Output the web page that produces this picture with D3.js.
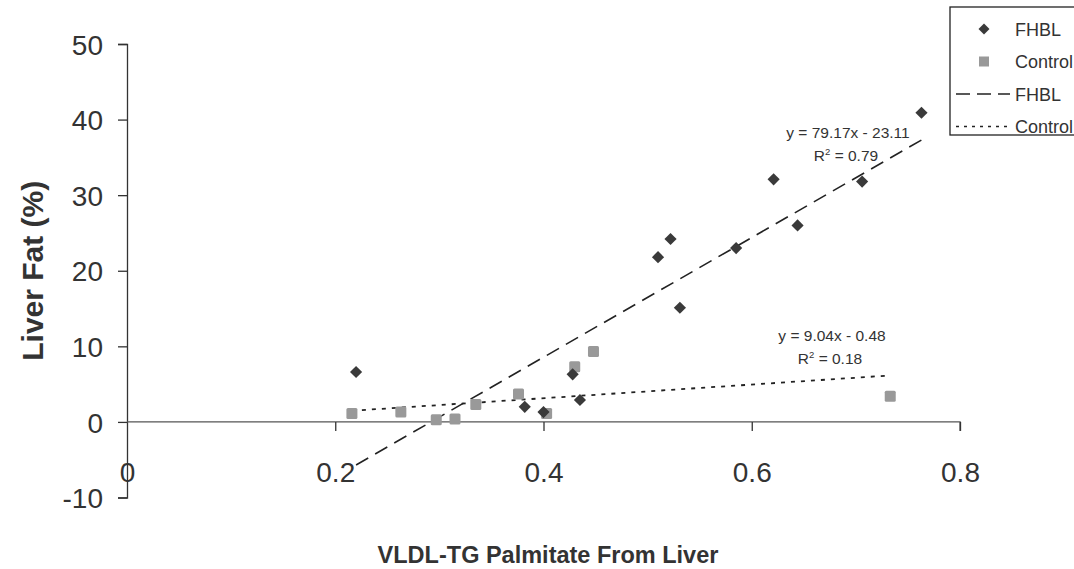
<!DOCTYPE html>
<html lang="en">
<head>
<meta charset="utf-8">
<title>Liver Fat vs VLDL-TG Palmitate</title>
<style>
  body { margin: 0; background: #fff; }
  svg text { font-family: "Liberation Sans", Arial, sans-serif; fill: #333; }
</style>
</head>
<body>
<div id="chart"></div>
<script src="https://d3js.org/d3.v7.min.js"></script>
<script>
// data
var fhblX = [0.22, 0.382, 0.40, 0.428, 0.435, 0.51, 0.522, 0.531, 0.585, 0.621, 0.644, 0.706, 0.763];
var fhblY = [6.6, 2.0, 1.3, 6.3, 2.9, 21.8, 24.2, 15.1, 23.0, 32.1, 26.0, 31.8, 40.9];
var ctrlX = [0.216, 0.263, 0.297, 0.315, 0.335, 0.376, 0.43, 0.448, 0.403, 0.733];
var ctrlY = [1.1, 1.3, 0.3, 0.4, 2.3, 3.7, 7.3, 9.3, 1.1, 3.4];
var xTicks = [0, 0.2, 0.4, 0.6, 0.8];
var yTicks = [-10, 0, 10, 20, 30, 40, 50];
var fhblFit = { slope: 79.17, icpt: -23.11, r2: "0.79", eq: "y = 79.17x - 23.11" };
var ctrlFit = { slope: 9.04, icpt: -0.48, r2: "0.18", eq: "y = 9.04x - 0.48" };

var width = 1074, height = 569;

var svg = d3.select("#chart").append("svg")
    .attr("width", width)
    .attr("height", height);

var x = d3.scaleLinear().domain([0, 0.8]).range([127, 960]);
var y = d3.scaleLinear().domain([-10, 50]).range([497.5, 44]);

// y axis
var yAxis = svg.append("g")
    .attr("transform", "translate(" + x(0) + ",0)")
    .call(d3.axisLeft(y).tickValues(yTicks).tickSize(9).tickPadding(15).tickFormat(function(d) { return String(d); }));
yAxis.select(".domain").attr("stroke", "#333").attr("stroke-width", 1.3);
yAxis.selectAll(".tick line").attr("stroke", "#333").attr("stroke-width", 1.3);
yAxis.selectAll(".tick text").attr("font-size", 28).attr("fill", "#333").attr("dy", "0.36em");

// x axis sits on y = 0
var xAxis = svg.append("g")
    .attr("transform", "translate(0," + y(0) + ")")
    .call(d3.axisBottom(x).tickValues(xTicks).tickSize(9).tickPadding(31).tickFormat(function(d) { return d === 0 ? "0" : d3.format(".1f")(d); }));
xAxis.select(".domain").attr("stroke", "#555").attr("stroke-width", 1.3).attr("d", "M" + x(0) + ",0H" + x(0.8) + "V9");
xAxis.selectAll(".tick line").attr("stroke", "#333").attr("stroke-width", 1.3);
xAxis.selectAll(".tick").filter(function(d) { return d === 0; }).select("line").remove();
xAxis.selectAll(".tick text").attr("font-size", 28).attr("fill", "#333");

// axis titles
svg.append("text")
    .attr("transform", "translate(43," + y(20) + ") rotate(-90)")
    .attr("text-anchor", "middle")
    .attr("font-size", 30)
    .attr("font-weight", "bold")
    .text("Liver Fat (%)");

svg.append("text")
    .attr("x", 548)
    .attr("y", 563)
    .attr("text-anchor", "middle")
    .attr("font-size", 23.5)
    .attr("font-weight", "bold")
    .text("VLDL-TG Palmitate From Liver");

// trend lines
function fitLine(fit, xs, dash, w) {
    var x0 = d3.min(xs), x1 = d3.max(xs);
    svg.append("line")
        .attr("x1", x(x0)).attr("y1", y(fit.slope * x0 + fit.icpt))
        .attr("x2", x(x1)).attr("y2", y(fit.slope * x1 + fit.icpt))
        .attr("stroke", "#222")
        .attr("stroke-width", w)
        .attr("stroke-dasharray", dash);
}
fitLine(fhblFit, fhblX, "14,8", 1.6);
fitLine(ctrlFit, ctrlX, "4,6", 1.8);

// control squares
svg.selectAll(".ctrl")
    .data(ctrlX)
    .enter()
    .append("rect")
    .attr("class", "ctrl")
    .attr("x", function(d) { return x(d) - 5.5; })
    .attr("y", function(d, i) { return y(ctrlY[i]) - 5.5; })
    .attr("width", 11)
    .attr("height", 11)
    .attr("rx", 1.5)
    .attr("fill", "#999");

// FHBL diamonds
var diamond = d3.symbol().type(d3.symbolSquare).size(74);
svg.selectAll(".fhbl")
    .data(fhblX)
    .enter()
    .append("path")
    .attr("class", "fhbl")
    .attr("d", diamond)
    .attr("transform", function(d, i) { return "translate(" + x(d) + "," + y(fhblY[i]) + ") rotate(45)"; })
    .attr("fill", "#3a3a3a");

// equations
function eqLabel(fit, cx, cy) {
    svg.append("text")
        .attr("x", cx).attr("y", cy)
        .attr("text-anchor", "middle")
        .attr("font-size", 15.5)
        .text(fit.eq);
    var r = svg.append("text")
        .attr("x", cx - 2).attr("y", cy + 23)
        .attr("text-anchor", "middle")
        .attr("font-size", 15.5);
    r.append("tspan").text("R");
    r.append("tspan").attr("font-size", 9.5).attr("dy", -6).text("2");
    r.append("tspan").attr("dy", 6).text(" = " + fit.r2);
}
eqLabel(fhblFit, 848, 138);
eqLabel(ctrlFit, 832, 341);

// legend, cut off at the right edge
var lg = svg.append("g");
lg.append("rect")
    .attr("x", 950).attr("y", 7)
    .attr("width", 140).attr("height", 128)
    .attr("fill", "#fff")
    .attr("stroke", "#222")
    .attr("stroke-width", 1.3);

var legendItems = [
    { label: "FHBL", kind: "diamond" },
    { label: "Control", kind: "square" },
    { label: "FHBL", kind: "dash" },
    { label: "Control", kind: "dot" }
];
legendItems.forEach(function(item, i) {
    var ly = 29 + i * 32.5;
    if (item.kind === "diamond") {
        lg.append("path").attr("d", d3.symbol().type(d3.symbolSquare).size(60))
            .attr("transform", "translate(984," + ly + ") rotate(45)")
            .attr("fill", "#3a3a3a");
    } else if (item.kind === "square") {
        lg.append("rect").attr("x", 979).attr("y", ly - 5).attr("width", 10).attr("height", 10)
            .attr("fill", "#999");
    } else {
        lg.append("line").attr("x1", 956).attr("x2", 1010).attr("y1", ly).attr("y2", ly)
            .attr("stroke", "#222")
            .attr("stroke-width", 1.6)
            .attr("stroke-dasharray", item.kind === "dash" ? "14,7" : "3,5");
    }
    lg.append("text")
        .attr("x", 1015).attr("y", ly + 6.5)
        .attr("font-size", 18)
        .attr("fill", "#222")
        .text(item.label);
});
</script>
</body>
</html>
